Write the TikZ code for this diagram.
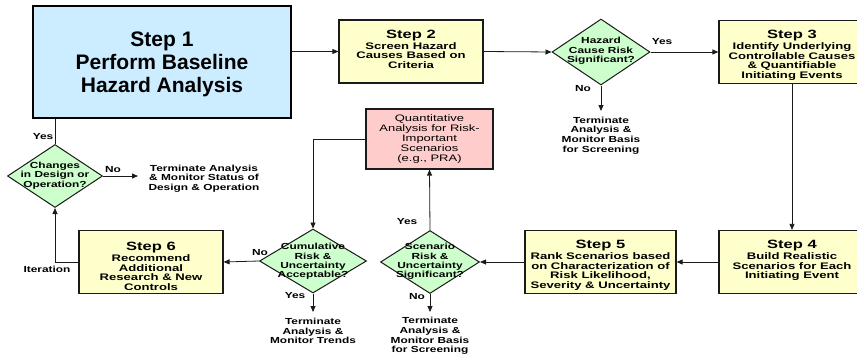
\documentclass[tikz,border=0pt]{standalone}
\usepackage{fontspec}
\usetikzlibrary{shapes.geometric,arrows.meta}
\newfontfamily\boxfont[FakeStretch=1.38]{Liberation Sans}
\newfontfamily\smallfont[FakeStretch=1.35]{Liberation Sans}
\newfontfamily\bigfont{Liberation Sans}
\definecolor{stepblue}{HTML}{CCECFF}
\definecolor{stepyellow}{HTML}{FFFFCC}
\definecolor{decgreen}{HTML}{CCFFCC}
\definecolor{quantpink}{HTML}{FFCCCC}
\definecolor{edge}{HTML}{1A1A1A}
\newcommand\stephead[1]{{\fontsize{12}{12}\selectfont #1}\\[1.2pt]}
\begin{document}
\begin{tikzpicture}[x=1pt,y=-1pt,
  bigbox/.style={draw=black, line width=2.6pt, fill=stepblue, minimum width=258pt, minimum height=112pt, inner sep=0pt},
  bigtext/.style={align=center, inner sep=0pt, font=\bigfont\bfseries\fontsize{21}{23}\selectfont},
  stepbox/.style={draw=edge, line width=1.2pt, fill=stepyellow, minimum width=144pt, minimum height=63pt, inner sep=0pt},
  steptext/.style={anchor=north, align=center, inner sep=0pt, yshift=-10.5pt,
    font=\boxfont\bfseries\fontsize{9.5}{9.6}\selectfont},
  quantbox/.style={draw=edge, line width=1.2pt, fill=quantpink, minimum width=127pt, minimum height=60pt,
    align=center, inner sep=0pt, font=\boxfont\fontsize{9.4}{9.9}\selectfont},
  decision/.style={diamond, draw=edge, line width=1pt, fill=decgreen, inner sep=0pt},
  dectext/.style={align=center, inner sep=0pt, font=\smallfont\bfseries\fontsize{8.8}{9.3}\selectfont},
  lbl/.style={inner sep=0pt, font=\smallfont\bfseries\fontsize{8.8}{9.5}\selectfont},
  endtext/.style={align=center, inner sep=0pt, font=\smallfont\bfseries\fontsize{8.8}{9.6}\selectfont},
  link/.style={draw=edge, line width=0.8pt},
  arr/.style={link, -{Triangle[length=6pt,width=5pt]}}]
\useasboundingbox (0,0) rectangle (857,356);
\clip (0,0) rectangle (857,356);

% process steps
\node[bigbox] (s1) at (162,62) {};
\node[bigtext] (s1t) at (162,64) {Step 1\\Perform Baseline\\Hazard Analysis};
\node[stepbox] (s2) at (411,51.5) {};
\node[steptext] (s2t) at (s2.north) {\stephead{Step 2}Screen Hazard\\Causes Based on\\Criteria};
\node[stepbox, minimum width=146pt] (s3) at (792,52) {};
\node[steptext] (s3t) at (s3.north) {\stephead{Step 3}Identify Underlying\\Controllable Causes\\\& Quantifiable\\Initiating Events};
\node[stepbox, minimum width=146pt] (s4) at (792,262) {};
\node[steptext] (s4t) at (s4.north) {\stephead{Step 4}Build Realistic\\Scenarios for Each\\Initiating Event};
\node[stepbox, minimum width=151pt] (s5) at (600.5,262) {};
\node[steptext] (s5t) at (s5.north) {\stephead{Step 5}Rank Scenarios based\\on Characterization of\\Risk Likelihood,\\Severity \& Uncertainty};
\node[stepbox] (s6) at (151,262) {};
\node[steptext, yshift=-2pt] (s6t) at (s6.north) {\stephead{Step 6}Recommend\\Additional\\Research \& New\\Controls};
\node[quantbox] (q) at (429.5,139) {Quantitative\\Analysis for Risk-\\Important\\Scenarios\\(e.g., PRA)};

% decisions
\node[decision, minimum width=98pt, minimum height=66pt] (d1) at (601,52) {};
\node[dectext] (d1t) at (601,51) {Hazard\\Cause Risk\\Significant?};
\node[decision, minimum width=99pt, minimum height=63pt] (d2) at (430,262) {};
\node[dectext] (d2t) at (430,261.5) {Scenario\\Risk \&\\Uncertainty\\Significant?};
\node[decision, minimum width=107pt, minimum height=64pt] (d3) at (313,261) {};
\node[dectext] (d3t) at (313,261.5) {Cumulative\\Risk \&\\Uncertainty\\Acceptable?};
\node[decision, minimum width=95pt, minimum height=63pt] (d4) at (55,176) {};
\node[dectext] (d4t) at (55,175.5) {Changes\\in Design or\\Operation?};

% end points
\coordinate (e1) at (601,111);
\coordinate (e2) at (430,312);
\coordinate (e3) at (313,312);
\coordinate (e4) at (138,176);
\node[endtext] (t1) at (601,135.5) {Terminate\\Analysis \&\\Monitor Basis\\for Screening};
\node[endtext] (t2) at (430,336) {Terminate\\Analysis \&\\Monitor Basis\\for Screening};
\node[endtext] (t3) at (313,331) {Terminate\\Analysis \&\\Monitor Trends};
\node[endtext] (t4) at (204,178.5) {Terminate Analysis\\\& Monitor Status of\\Design \& Operation};

% connectors
\draw[arr] (s2.west -| s1.east) -- (s2.west);
\draw[arr] (s2.east) -- (d1.west);
\draw[arr] (d1.east) -- (s3.west);
\draw[arr] (d1.south) -- (e1);
\draw[arr] (s3.south) -- (s4.north);
\draw[arr] (s4.west) -- (s5.east);
\draw[arr] (s5.west) -- (d2.east);
\draw[arr] (d2.north) -- (q.south);
\draw[arr] (d2.south) -- (e2);
\draw[arr] (q.west) -| (d3.north);
\draw[arr] (d3.south) -- (e3);
\draw[arr] (d3.west) -- (s6.east);
\draw[arr] (s6.west) -| (d4.south);
\draw[link] (d4.north) -- (d4.north |- s1.south);
\draw[arr] (d4.east) -- (e4);

% branch labels
\node[lbl] (y1) at (662,42) {Yes};
\node[lbl] (n1) at (583,89) {No};
\node[lbl] (y2) at (407,222) {Yes};
\node[lbl] (n2) at (417,297) {No};
\node[lbl] (y3) at (295,296) {Yes};
\node[lbl] (n3) at (260,253) {No};
\node[lbl] (y4) at (43,137) {Yes};
\node[lbl] (n4) at (113,170) {No};
\node[lbl] (it) at (47,269) {Iteration};
\end{tikzpicture}
\end{document}
